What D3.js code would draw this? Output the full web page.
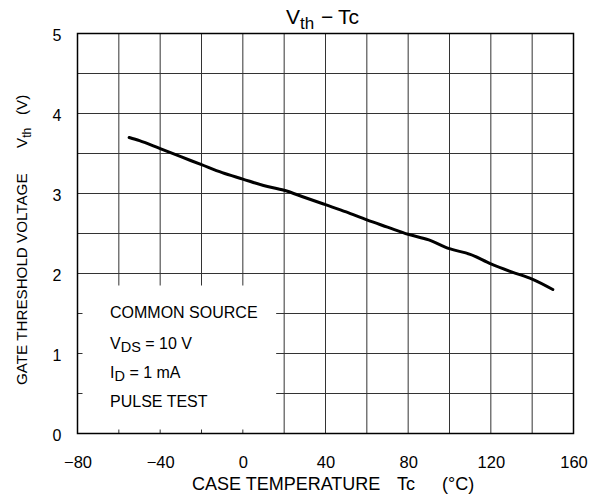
<!DOCTYPE html>
<html>
<head>
<meta charset="utf-8">
<script src="https://cdn.jsdelivr.net/npm/d3@7"></script>
<style>
  html, body { margin: 0; padding: 0; background: #fff; }
  svg { display: block; font-family: "Liberation Sans", Arial, sans-serif; }
</style>
</head>
<body>
<svg id="chart" width="597" height="499"></svg>
<script>
// Gate threshold voltage vs. case temperature
const caseTemp = [-55, -50, -40, -30, -20, -10, 0, 10, 20, 30, 40, 50, 60, 70, 80, 90, 100, 110, 120, 130, 140, 150];
const vth      = [3.70, 3.66, 3.56, 3.46, 3.36, 3.26, 3.18, 3.10, 3.04, 2.95, 2.86, 2.77, 2.67, 2.58, 2.49, 2.42, 2.31, 2.24, 2.12, 2.02, 1.93, 1.80];

const xTicks = [-80, -40, 0, 40, 80, 120, 160];
const yTicks = [0, 1, 2, 3, 4, 5];
const xGrid = d3.range(-80, 161, 20);
const yGrid = d3.range(0, 5.01, 0.5);

const conditions = ["COMMON SOURCE", "V|DS| = 10 V", "I|D| = 1 mA", "PULSE TEST"];

const svg = d3.select("#chart");
const FONT = "'Liberation Sans', Arial, sans-serif";

const x = d3.scaleLinear().domain([-80, 160]).range([77.5, 573.5]);
const y = d3.scaleLinear().domain([0, 5]).range([433.5, 33.5]);

// grid
const grid = svg.append("g").attr("stroke", "#333").attr("stroke-width", 1);
grid.selectAll("line.v").data(xGrid).join("line")
  .attr("x1", d => x(d)).attr("x2", d => x(d))
  .attr("y1", y(0)).attr("y2", y(5));
grid.selectAll("line.h").data(yGrid).join("line")
  .attr("y1", d => y(d)).attr("y2", d => y(d))
  .attr("x1", x(-80)).attr("x2", x(160));

// blank panel behind the test conditions
svg.append("rect")
  .attr("x", x(-80) + 5).attr("y", y(2) + 12)
  .attr("width", x(20) - 8 - (x(-80) + 5))
  .attr("height", y(0) - 4 - (y(2) + 12))
  .attr("fill", "#fff");

// frame
svg.append("rect")
  .attr("x", x(-80)).attr("y", y(5))
  .attr("width", x(160) - x(-80)).attr("height", y(0) - y(5))
  .attr("fill", "none").attr("stroke", "#000").attr("stroke-width", 1.5);

// tick labels
const xAxis = svg.append("g")
  .attr("transform", `translate(0,${y(0)})`)
  .call(d3.axisBottom(x).tickValues(xTicks).tickSize(0).tickPadding(23)
    .tickFormat(d => d < 0 ? "\u2212" + Math.abs(d) : String(d)));
xAxis.select(".domain").remove();
xAxis.selectAll("text").attr("font-size", 16.5).attr("fill", "#000").attr("font-family", FONT);

const yAxis = svg.append("g")
  .attr("transform", `translate(${x(-80)},0)`)
  .call(d3.axisLeft(y).tickValues(yTicks).tickSize(0).tickPadding(16).tickFormat(d3.format("d")));
yAxis.select(".domain").remove();
yAxis.selectAll("text").attr("font-size", 16).attr("fill", "#000").attr("font-family", FONT);
yAxis.selectAll(".tick").attr("transform", d => `translate(0,${y(d) + 2.5})`);

// curve
const line = d3.line().x((d, i) => x(caseTemp[i])).y(d => y(d)).curve(d3.curveMonotoneX);
svg.append("path")
  .attr("d", line(vth))
  .attr("fill", "none").attr("stroke", "#000").attr("stroke-width", 3)
  .attr("stroke-linecap", "round").attr("stroke-linejoin", "round");

// title
const title = svg.append("text").attr("x", 286).attr("y", 24).attr("font-size", 21).attr("fill", "#000");
title.append("tspan").text("V");
title.append("tspan").attr("font-size", 17).attr("dy", 5).text("th");
title.append("tspan").attr("dy", -5).attr("x", 321).text("\u2212");
title.append("tspan").attr("x", 338).text("Tc");

// x title
const xt = svg.append("text").attr("y", 490).attr("font-size", 18).attr("fill", "#000");
xt.append("tspan").attr("x", 192).text("CASE TEMPERATURE");
xt.append("tspan").attr("x", 397).text("Tc");
xt.append("tspan").attr("x", 442).text("(\u00B0C)");

// y title
const yt = svg.append("text")
  .attr("transform", "translate(27,0) rotate(-90)")
  .attr("font-size", 15.2).attr("fill", "#000");
yt.append("tspan").attr("x", -385).text("GATE THRESHOLD VOLTAGE");
yt.append("tspan").attr("x", -148).text("V");
yt.append("tspan").attr("font-size", 12).attr("dy", 4).text("th");
yt.append("tspan").attr("dy", -4).attr("x", -115).text("(V)");

// test conditions
const condY = [318, 349, 378, 407];
conditions.forEach((c, i) => {
  const parts = c.split("|");
  const t = svg.append("text").attr("x", 110).attr("y", condY[i]).attr("font-size", 16).attr("fill", "#000");
  if (parts.length === 1) { t.text(c); return; }
  t.append("tspan").text(parts[0]);
  t.append("tspan").attr("font-size", 14.5).attr("dy", 3).text(parts[1]);
  t.append("tspan").attr("dy", -3).text(parts[2]);
});
</script>
</body>
</html>
